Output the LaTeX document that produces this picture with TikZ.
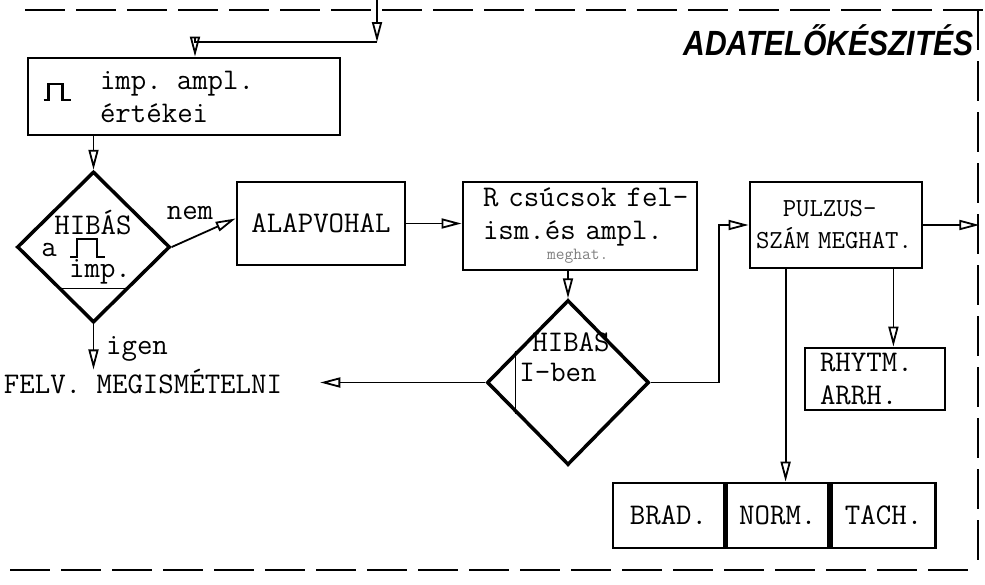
\documentclass[tikz,border=0pt]{standalone}
\usepackage{fontspec}
\newfontfamily\titlefont{Liberation Sans}
\usetikzlibrary{arrows.meta,shapes.geometric,calc,positioning}
\begin{document}
\begin{tikzpicture}
    [x=1pt,y=-1pt,
    tw/.style={font=\ttfamily\fontsize{30}{33}\selectfont},
    box/.style={tw,draw,line width=2.8pt,inner sep=0pt},
    dec/.style={draw,shape=diamond,line width=3.5pt,inner sep=0pt},
    txt/.style={tw,inner sep=0pt},
    arr/.style={-{Triangle[open,length=20pt,width=10pt]},line width=1.8pt},
    pulse/.style={line width=2.6pt}]
    \useasboundingbox (0,0) rectangle (985,584);
    %frame
    \draw[line width=2.8pt,dash pattern=on 40pt off 11pt] (25,10)--(985,10);
    \draw[line width=2.8pt,dash pattern=on 40pt off 11pt] (978,10)--(978,570);
    \draw[line width=2.8pt,dash pattern=on 40pt off 11pt] (10,570)--(975,570);
    \node[anchor=east,inner sep=0pt,xscale=0.86,
      font=\titlefont\bfseries\itshape\fontsize{35}{35}\selectfont]
      (title) at (974,40) {ADATELŐKÉSZITÉS};
    %boxes
    \node[box,minimum width=312,minimum height=77,align=left,text width=168]
      (ampl) at (184,96.5) {imp. ampl.\\értékei};
    \node[box,minimum width=168,minimum height=83] (alap) at (321,223.5) {ALAPVOHAL};
    \node[box,minimum width=234,minimum height=88,align=left,text width=194]
      (rcs) at (580,226) {\mbox{R csúcsok fel-}\\\mbox{ism.és ampl.}\\[-13pt]
      {\fontsize{17}{17}\selectfont\color{black!50}\hspace*{64pt}meghat.}};
    \node[box,minimum width=172,minimum height=86,align=left,text width=160,
      font=\ttfamily\fontsize{26}{32}\selectfont]
      (pulz) at (836,225) {\hphantom{SZ}PULZUS-\\SZÁM MEGHAT.};
    \node[box,minimum width=140,minimum height=62,align=left,text width=110]
      (rhytm) at (875,379) {RHYTM.\\ARRH.};
    \node[box,minimum width=111,minimum height=65] (brad) at (668.5,515.5) {BRAD.};
    \node[box,minimum width=102,minimum height=65,right=0pt of brad] (norm) {NORM.};
    \node[box,minimum width=104,minimum height=65,right=0pt of norm] (tach) {TACH.};
    %decisions
    \node[dec,minimum width=153,minimum height=151] (hib1) at (93.5,247) {};
    \node[txt] (hib1a) at (93,223) {HIBÁS};
    \node[txt] (hib1b) at (49,250) {a};
    \node[txt] (hib1c) at (100,272) {imp.};
    \draw[pulse] ([shift={(-23.5,10)}]hib1.center) -- ++(7,0) -- ++(0,-18)
      -- ++(20,0) -- ++(0,18) -- ++(8,0);
    \draw[line width=1.2pt] ($(hib1.south)!0.46!(hib1.west)$) -- ($(hib1.south)!0.46!(hib1.east)$);
    \draw[pulse] ([shift={(17,3.5)}]ampl.west) -- ++(5,0) -- ++(0,-16)
      -- ++(14,0) -- ++(0,16) -- ++(8,0);
    \node[dec,minimum width=162,minimum height=165] (hib2) at (568,382.5) {};
    \node[txt] (hib2a) at (571,342) {HIBAS};
    \node[txt] (hib2b) at (558,372) {I-ben};
    \draw[line width=1.2pt] ($(hib2.west)!0.37!(hib2.north)$) -- ($(hib2.west)!0.37!(hib2.south)$);
    \node[txt] (felv) at (143,382) {FELV. MEGISMÉTELNI};
    \node[txt] (nem) at (190,213) {nem};
    \node[txt] (igen) at (137,349) {igen};
    %connectors
    \coordinate (in) at (377,0);
    \coordinate (bend) at (377,42);
    \draw[arr] (in) -- (bend);
    \draw[arr] (bend) -| ([xshift=11pt]ampl.north);
    \draw[arr] (ampl.south -| hib1.north) -- (hib1.north);
    \draw[arr] (hib1.east) -- ([yshift=5pt]alap.west);
    \draw[arr] (hib1.south) -- (hib1.south |- felv.north);
    \draw[arr] (alap.east) -- (rcs.west |- alap.east);
    \draw[arr] (rcs.south -| hib2.north) -- (hib2.north);
    \draw[arr] (hib2.west) -- ([xshift=38pt]felv.east |- hib2.west);
    \draw[arr] (hib2.east) -- ++(68,0) |- (pulz.west);
    \draw[arr] (pulz.east) -- ++(56,0);
    \draw[arr] ([xshift=-30pt]pulz.south east) -- ([xshift=-30pt]pulz.south east |- rhytm.north);
    \draw[arr] ([xshift=37pt]pulz.south west) -- ([xshift=37pt]pulz.south west |- norm.north);
\end{tikzpicture}
\end{document}
